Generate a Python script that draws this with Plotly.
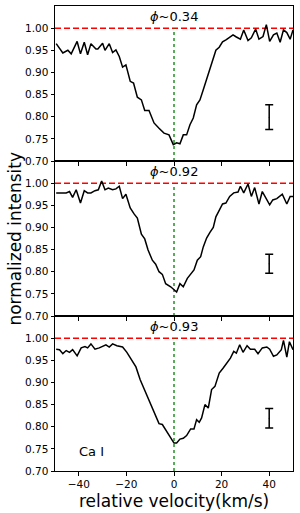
import plotly.graph_objects as go
from plotly.subplots import make_subplots

# ---- data ----
v1 = [-49.5, -46.7, -44.6, -43.2, -40.7, -39.3, -37.7, -36.3, -34.9, -32.8, -32.0, -30.0, -29.0, -27.2,
      -25.8, -24.4, -23.0, -21.6, -20.2, -18.4, -17.0, -15.4, -13.7, -12.3, -10.5, -8.4, -6.3, -4.2,
      -2.1, -0.3, 1.1, 2.5, 3.9, 5.3, 6.7, 8.1, 9.5, 10.9, 12.3, 13.4, 14.8, 16.2, 17.6, 19.0, 20.4,
      22.0, 24.8, 26.2, 27.9, 29.3, 31.1, 32.5, 34.3, 35.7, 37.4, 38.8, 40.2, 41.8, 43.2, 44.6, 46.0,
      47.4, 48.8, 50.0]
f1 = [0.965, 0.944, 0.950, 0.942, 0.970, 0.942, 0.968, 0.940, 0.965, 0.953, 0.953, 0.966, 0.950, 0.965,
      0.945, 0.951, 0.936, 0.912, 0.917, 0.880, 0.876, 0.844, 0.838, 0.814, 0.814, 0.786, 0.774, 0.763,
      0.759, 0.737, 0.741, 0.739, 0.759, 0.759, 0.782, 0.797, 0.827, 0.838, 0.861, 0.880, 0.899, 0.925,
      0.950, 0.957, 0.969, 0.974, 0.985, 0.980, 0.975, 0.996, 0.972, 0.978, 0.998, 0.975, 0.981, 1.008,
      0.970, 0.985, 0.989, 0.968, 0.996, 0.990, 0.975, 0.996]

v2 = [-49.5, -45.3, -43.9, -42.6, -41.1, -39.3, -37.7, -36.3, -34.9, -33.2, -31.8, -30.4, -29.0, -27.6,
      -25.8, -24.4, -23.0, -21.6, -20.2, -18.4, -16.7, -15.4, -13.7, -12.3, -10.9, -9.1, -7.7, -6.3,
      -4.9, -3.5, -1.4, 0.0, 1.1, 2.5, 3.9, 5.6, 7.0, 8.4, 9.8, 11.2, 12.3, 13.7, 15.1, 16.5, 17.6,
      19.0, 20.4, 21.8, 23.4, 25.1, 26.9, 27.9, 29.3, 31.1, 32.5, 33.9, 35.7, 37.1, 38.8, 40.2, 41.5,
      43.2, 45.5, 47.4, 48.8, 50.0]
f2 = [0.978, 0.978, 0.981, 0.968, 0.985, 0.955, 0.983, 0.978, 0.978, 0.983, 0.985, 1.005, 0.985, 0.989,
      0.985, 0.987, 0.993, 0.965, 0.975, 0.944, 0.930, 0.921, 0.885, 0.874, 0.849, 0.826, 0.817, 0.800,
      0.794, 0.773, 0.766, 0.758, 0.754, 0.773, 0.766, 0.785, 0.794, 0.804, 0.826, 0.834, 0.856, 0.876,
      0.889, 0.900, 0.924, 0.940, 0.953, 0.955, 0.970, 0.978, 0.980, 0.993, 0.978, 0.998, 0.970, 0.990,
      0.953, 0.981, 0.966, 0.951, 0.962, 0.965, 0.975, 0.953, 0.970, 0.970]

v3 = [-49.5, -48.1, -46.7, -45.3, -43.9, -42.6, -40.7, -39.0, -37.4, -36.3, -34.9, -33.2, -31.4, -29.6,
      -28.6, -27.2, -25.8, -24.0, -21.6, -19.8, -17.9, -16.0, -14.2, -12.5, -10.5, -8.7, -6.3, -4.9,
      -2.8, -1.4, 0.0, 1.1, 2.5, 3.9, 5.3, 7.0, 8.4, 9.5, 10.6, 11.6, 13.0, 14.4, 15.8, 17.2, 19.0,
      20.6, 22.3, 23.7, 25.1, 26.2, 27.6, 29.0, 30.7, 32.1, 33.9, 35.3, 37.1, 39.0, 40.2, 41.8, 43.2,
      45.1, 46.0, 47.4, 48.5, 50.0]
f3 = [0.975, 0.974, 0.965, 0.972, 0.968, 0.974, 0.960, 0.978, 0.981, 0.978, 0.987, 0.975, 0.978, 0.983,
      0.985, 0.980, 0.987, 0.983, 0.980, 0.968, 0.950, 0.935, 0.906, 0.884, 0.857, 0.835, 0.807, 0.805,
      0.786, 0.774, 0.763, 0.763, 0.772, 0.774, 0.780, 0.795, 0.795, 0.816, 0.810, 0.820, 0.850, 0.842,
      0.884, 0.891, 0.921, 0.932, 0.944, 0.955, 0.970, 0.966, 0.985, 0.968, 0.983, 0.975, 0.975, 0.965,
      0.978, 0.980, 0.975, 0.959, 0.962, 0.974, 0.995, 0.957, 0.992, 0.974]

phases = ["0.34", "0.92", "0.93"]
err_x = [40, 40, 40]
err_y = [0.799, 0.818, 0.819]
err_half = [0.028, 0.0215, 0.022]
continuum = 1.0
line_label = "Ca I"
x_ticks = [-40, -20, 0, 20, 40]
y_ticks = [0.70, 0.75, 0.80, 0.85, 0.90, 0.95, 1.00]

vels = [v1, v2, v3]
fluxes = [f1, f2, f3]

FONT = "DejaVu Sans"

fig = make_subplots(rows=3, cols=1, shared_xaxes=True, vertical_spacing=0)

for i in range(3):
    r = i + 1
    # continuum line
    fig.add_trace(go.Scatter(x=[-50, 50], y=[continuum, continuum], mode="lines",
                             line=dict(color="#ff0000", width=1.5, dash="6px,3px"),
                             showlegend=False, hoverinfo="skip"), row=r, col=1)
    # zero-velocity line
    fig.add_trace(go.Scatter(x=[0, 0], y=[0.70, continuum], mode="lines",
                             line=dict(color="#008000", width=1.3, dash="dot"),
                             showlegend=False, hoverinfo="skip"), row=r, col=1)
    # spectrum
    fig.add_trace(go.Scatter(x=vels[i], y=fluxes[i], mode="lines",
                             line=dict(color="black", width=1.5),
                             showlegend=False), row=r, col=1)
    # error bar
    fig.add_trace(go.Scatter(x=[err_x[i]], y=[err_y[i]], mode="markers",
                             marker=dict(size=1, color="black"),
                             error_y=dict(type="data", array=[err_half[i]], visible=True,
                                          color="black", thickness=1.5, width=4),
                             showlegend=False), row=r, col=1)
    fig.add_annotation(x=0, y=1.026, xref=f"x{'' if r == 1 else r}", yref=f"y{'' if r == 1 else r}",
                       text=f"<i>ϕ</i>~{phases[i]}", showarrow=False,
                       font=dict(family=FONT, size=13, color="black"),
                       xanchor="center", yanchor="middle")

fig.add_annotation(x=-34.7, y=0.744, xref="x3", yref="y3", text=line_label, showarrow=False,
                   font=dict(family=FONT, size=13, color="black"), xanchor="center", yanchor="middle")

axis_common = dict(showline=True, linecolor="black", linewidth=1, mirror=True,
                   showgrid=False, zeroline=False, ticks="outside", ticklen=3.5,
                   tickcolor="black", tickfont=dict(family=FONT, size=10.5, color="black"))

for r in range(1, 4):
    fig.update_xaxes(range=[-50, 50], tickvals=x_ticks,
                     ticktext=[("\u2212" + str(abs(t))) if t < 0 else str(t) for t in x_ticks],
                     showticklabels=(r == 3), **axis_common, row=r, col=1)
    fig.update_yaxes(range=[0.70, 1.05], tickvals=y_ticks,
                     ticktext=[f"{t:.2f}" for t in y_ticks], **axis_common, row=r, col=1)

fig.add_annotation(x=-0.172, y=0.5, xref="paper", yref="paper", text="normalized intensity",
                   textangle=-90, showarrow=False, font=dict(family=FONT, size=17, color="black"),
                   xanchor="center", yanchor="middle")
fig.add_annotation(x=0.5, y=-0.065, xref="paper", yref="paper", text="relative velocity(km/s)",
                   showarrow=False, font=dict(family=FONT, size=17, color="black"),
                   xanchor="center", yanchor="middle")

fig.update_layout(width=300, height=513, margin=dict(l=55, r=7, t=6, b=42),
                  paper_bgcolor="white", plot_bgcolor="white", showlegend=False)

fig.write_html("out.html", config={"displayModeBar": False},
               post_script="document.body.style.margin='0px';document.body.style.overflow='hidden';")
